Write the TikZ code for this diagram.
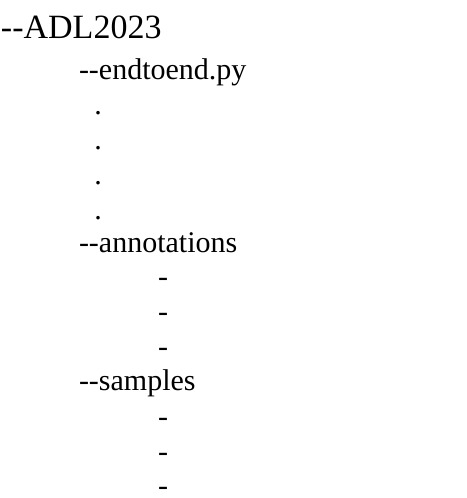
\documentclass[tikz,border=0pt]{standalone}
\usepackage{fontspec}
\setmainfont{Liberation Serif}
\begin{document}
\begin{tikzpicture}[x=1pt,y=-1pt,
  item/.style={anchor=base west,inner sep=0pt,outer sep=0pt,font=\fontsize{30}{36}\selectfont},
  rootitem/.style={item,font=\fontsize{34}{40}\selectfont},
  leaf/.style={anchor=base,inner sep=0pt,outer sep=0pt,font=\fontsize{30}{36}\selectfont}]
\useasboundingbox (0,0) rectangle (466,498);
\node[rootitem] (root) at (1,38) {-{}-ADL2023};
\node[item] (e2e) at (79,79) {-{}-endtoend.py};
\node[leaf] (d1) at (98,114) {.};
\node[leaf] (d2) at (98,149) {.};
\node[leaf] (d3) at (98,184) {.};
\node[leaf] (d4) at (98,219) {.};
\node[item] (ann) at (79,252) {-{}-annotations};
\node[leaf] (a1) at (163,286) {-};
\node[leaf] (a2) at (163,321) {-};
\node[leaf] (a3) at (163,356) {-};
\node[item] (smp) at (79,390) {-{}-samples};
\node[leaf] (s1) at (163,426) {-};
\node[leaf] (s2) at (163,461) {-};
\node[leaf] (s3) at (163,495) {-};
\end{tikzpicture}
\end{document}
